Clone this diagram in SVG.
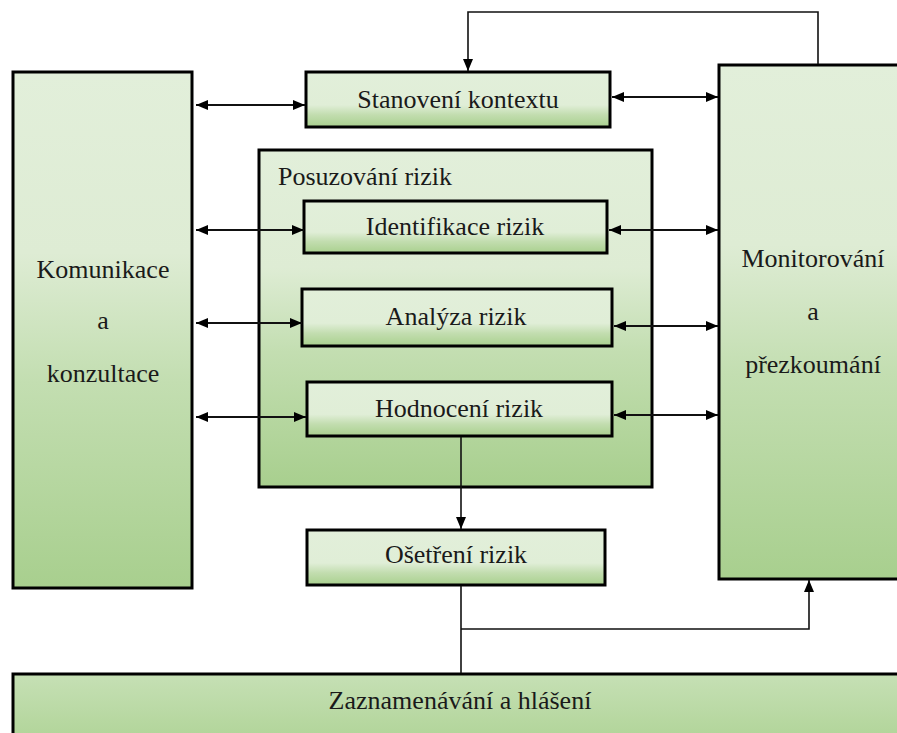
<svg xmlns="http://www.w3.org/2000/svg" width="897" height="733" viewBox="0 0 897 733">
<style>
.box{stroke:#000;stroke-width:3}
.sm{fill:url(#gSmall)}
.bg{fill:url(#gBig)}
text{font-family:'Liberation Serif','Times New Roman',Times,serif;font-size:26px;fill:#1a1a1a;text-anchor:middle}
.c{fill:none;stroke:#111;stroke-width:2}
.l{fill:none;stroke:#111;stroke-width:1.6}
</style>
<defs>
<linearGradient id="gSmall" x1="0" y1="0" x2="0" y2="1">
<stop offset="0" stop-color="#e2efda"/>
<stop offset="0.6" stop-color="#e0eed7"/>
<stop offset="0.78" stop-color="#c2ddaf"/>
<stop offset="1" stop-color="#a9d08e"/>
</linearGradient>
<linearGradient id="gBig" x1="0" y1="0" x2="0" y2="1">
<stop offset="0" stop-color="#e2efda"/>
<stop offset="0.35" stop-color="#deecd4"/>
<stop offset="0.6" stop-color="#c3deb1"/>
<stop offset="1" stop-color="#a8cf8e"/>
</linearGradient>
<linearGradient id="gRec" x1="0" y1="0" x2="0" y2="1">
<stop offset="0" stop-color="#c6e0b5"/>
<stop offset="1" stop-color="#a9d08e"/>
</linearGradient>
<marker id="ah" viewBox="0 0 12 10" refX="12" refY="5" markerWidth="12" markerHeight="10" markerUnits="userSpaceOnUse" orient="auto-start-reverse">
<path d="M0,0 L12,5 L0,10 z" fill="#000"/>
</marker>
</defs>

<g id="komunikace">
<rect class="box bg" x="13" y="72" width="179" height="516"/>
<text x="103" y="278" font-family="Liberation Serif, serif">Komunikace</text>
<text x="103" y="329" font-family="Liberation Serif, serif">a</text>
<text x="103" y="382" font-family="Liberation Serif, serif">konzultace</text>
</g>

<g id="monitorovani">
<rect class="box bg" x="719" y="65" width="195" height="514"/>
<text x="813" y="267" font-family="Liberation Serif, serif">Monitorování</text>
<text x="813" y="320" font-family="Liberation Serif, serif">a</text>
<text x="813" y="373" font-family="Liberation Serif, serif">přezkoumání</text>
</g>

<g id="stanoveni">
<rect class="box sm" x="306" y="72" width="304" height="55"/>
<text x="458" y="108" font-family="Liberation Serif, serif">Stanovení kontextu</text>
</g>

<g id="posuzovani">
<rect class="box bg" x="259" y="150" width="393" height="337"/>
<text x="278" y="185" font-family="Liberation Serif, serif" style="text-anchor:start">Posuzování rizik</text>
</g>

<g id="identifikace">
<rect class="box sm" x="304" y="201" width="303" height="52"/>
<text x="455" y="235" font-family="Liberation Serif, serif">Identifikace rizik</text>
</g>

<g id="analyza">
<rect class="box sm" x="302" y="289" width="310" height="57"/>
<text x="456" y="325" font-family="Liberation Serif, serif">Analýza rizik</text>
</g>

<g id="hodnoceni">
<rect class="box sm" x="307" y="382" width="305" height="54"/>
<text x="459" y="417" font-family="Liberation Serif, serif">Hodnocení rizik</text>
</g>

<g id="osetreni">
<rect class="box sm" x="307" y="530" width="298" height="55"/>
<text x="456" y="563" font-family="Liberation Serif, serif">Ošetření rizik</text>
</g>

<g id="zaznamenavani">
<rect class="box" fill="url(#gRec)" x="13" y="674" width="900" height="90"/>
<text x="460" y="709" font-family="Liberation Serif, serif">Zaznamenávání a hlášení</text>
</g>

<g id="connectors">
<line class="c" x1="196" y1="105" x2="305" y2="105" marker-start="url(#ah)" marker-end="url(#ah)"/>
<line class="c" x1="196" y1="230" x2="304" y2="230" marker-start="url(#ah)" marker-end="url(#ah)"/>
<line class="c" x1="196" y1="323" x2="302" y2="323" marker-start="url(#ah)" marker-end="url(#ah)"/>
<line class="c" x1="196" y1="417" x2="306" y2="417" marker-start="url(#ah)" marker-end="url(#ah)"/>

<line class="c" x1="612" y1="97" x2="718" y2="97" marker-start="url(#ah)" marker-end="url(#ah)"/>
<line class="c" x1="609" y1="230" x2="718" y2="230" marker-start="url(#ah)" marker-end="url(#ah)"/>
<line class="c" x1="614" y1="326" x2="718" y2="326" marker-start="url(#ah)" marker-end="url(#ah)"/>
<line class="c" x1="614" y1="415" x2="718" y2="415" marker-start="url(#ah)" marker-end="url(#ah)"/>

<polyline class="l" points="818,64 818,12 468,12 468,71" marker-end="url(#ah)"/>
<line class="l" x1="461" y1="437" x2="461" y2="529" marker-end="url(#ah)"/>
<line class="l" x1="461" y1="586" x2="461" y2="673"/>
<polyline class="l" points="461,629 809,629 809,580" marker-end="url(#ah)"/>
</g>
</svg>
